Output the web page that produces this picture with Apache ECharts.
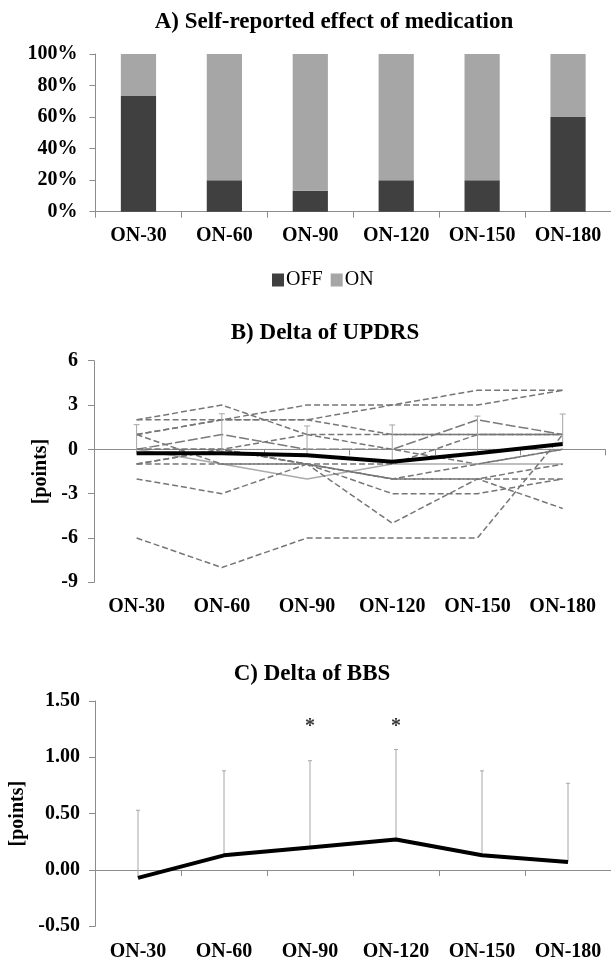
<!DOCTYPE html>
<html>
<head>
<meta charset="utf-8">
<script src="https://cdn.jsdelivr.net/npm/echarts@6/dist/echarts.min.js"></script>
<style>
  html, body { margin: 0; padding: 0; background: #fff; }
  #chart { width: 611px; height: 960px; }
</style>
</head>
<body>
<div id="chart"></div>
<script>
// categories shared by the three panels
const cats = ['ON-30', 'ON-60', 'ON-90', 'ON-120', 'ON-150', 'ON-180'];

// A) self-reported effect (% of patients)
const offPct = [73.3, 20, 13.3, 20, 20, 60];
const onPct = [26.7, 80, 86.7, 80, 80, 40];

// B) delta UPDRS, one array per patient
const p01 = [2, 3, 1, 1, 1, 1];
const p02 = [2, 2, 2, 3, 4, 4];
const p03 = [1, 2, 3, 3, 3, 4];
const p04 = [1, 2, 2, 1, 1, 1];
const p05 = [0, 1, 0, 0, 2, 1];
const p06 = [0, 0, 1, 0, -1, 0];
const p07 = [0, 0, 0, 0, 0, 0];
const p08 = [0, -1, -2, -1, -1, -1];
const p09 = [1, -1, -1, -2, -2, -1];
const p10 = [-1, 0, -1, -1, 1, 1];
const p11 = [-1, -1, -1, -3, -3, -2];
const p12 = [-1, 0, -1, -5, -2, -4];
const p13 = [-2, -3, -1, -2, -1, 0];
const p14 = [-6, -8, -6, -6, -6, 1];
const p15 = [0, 0, -1, -2, -2, -2];
const updrsPatients = [p01, p02, p03, p04, p05, p06, p07, p08, p09, p10, p11, p12, p13, p14, p15];
const updrsMean = [-0.27, -0.27, -0.4, -0.84, -0.27, 0.36];
const updrsSd = [1.94, 2.68, 1.98, 2.49, 2.52, 2.03];

// C) delta BBS
const bbsMean = [-0.07, 0.13, 0.2, 0.27, 0.13, 0.07];
const bbsSd = [0.6, 0.75, 0.77, 0.8, 0.75, 0.7];
const sigCats = ['ON-90', 'ON-120'];
const sigLevel = 1.27;

const serif = '"Liberation Serif", "Times New Roman", serif';
const axisGray = '#8c8c8c';

const chart = echarts.init(document.getElementById('chart'));

function catAxis(gridIndex, margin) {
    return {
        type: 'category', gridIndex: gridIndex, data: cats,
        axisLine: {lineStyle: {color: axisGray, width: 1}},
        axisTick: {show: true, length: 6, lineStyle: {color: axisGray}},
        axisLabel: {color: '#000', fontFamily: serif, fontWeight: 'bold', fontSize: 20, margin: margin, interval: 0}
    };
}

function valAxis(gridIndex, opts) {
    return Object.assign({
        type: 'value', gridIndex: gridIndex,
        axisLine: {show: true, lineStyle: {color: axisGray, width: 1}},
        axisTick: {show: true, length: 6, lineStyle: {color: axisGray}},
        splitLine: {show: false},
        nameTextStyle: {color: '#000', fontFamily: serif, fontWeight: 'bold', fontSize: 20}
    }, opts);
}

// error bar: vertical line from the mean up to mean+sd with a small cap
function errorBar(color, cap) {
    return function (params, api) {
        const x = api.value(0);
        const lo = api.coord([x, api.value(1)]);
        const hi = api.coord([x, api.value(1) + api.value(2)]);
        return {
            type: 'group',
            children: [
                {type: 'line', shape: {x1: lo[0], y1: lo[1], x2: hi[0], y2: hi[1]}, style: {stroke: color, lineWidth: 1}},
                {type: 'line', shape: {x1: hi[0] - cap, y1: hi[1], x2: hi[0] + cap, y2: hi[1]}, style: {stroke: color, lineWidth: 1}}
            ]
        };
    };
}

const series = [];
series.push({
    name: 'OFF', type: 'bar', stack: 'a', xAxisIndex: 0, yAxisIndex: 0,
    data: offPct, barWidth: '41%', itemStyle: {color: '#404040'}, silent: true
});
series.push({
    name: 'ON', type: 'bar', stack: 'a', xAxisIndex: 0, yAxisIndex: 0,
    data: onPct, barWidth: '41%', itemStyle: {color: '#a6a6a6'}, silent: true
});

updrsPatients.forEach((p, i) => {
    let ls = {color: '#767676', width: 1.5, type: [6, 3]};
    if (i === 6) ls = {color: '#8f8f8f', width: 1, type: [2, 2]};
    if (i === 7) ls = {color: '#aaaaaa', width: 1.5, type: 'solid'};
    if (i === 4) ls = {color: '#7a7a7a', width: 1.5, type: [10, 3]};
    series.push({
        type: 'line', xAxisIndex: 1, yAxisIndex: 1, data: p,
        symbol: 'none', lineStyle: ls, z: 2, silent: true
    });
});
series.push({
    type: 'custom', xAxisIndex: 1, yAxisIndex: 1, z: 3, silent: true,
    renderItem: errorBar('#a6a6a6', 3),
    data: updrsMean.map((m, i) => [i, m, updrsSd[i]])
});
series.push({
    type: 'line', xAxisIndex: 1, yAxisIndex: 1, data: updrsMean,
    symbol: 'none', lineStyle: {color: '#000', width: 4}, z: 4, silent: true
});

series.push({
    type: 'custom', xAxisIndex: 2, yAxisIndex: 2, z: 3, silent: true,
    renderItem: errorBar('#a6a6a6', 2),
    data: bbsMean.map((m, i) => [i, m, bbsSd[i]])
});
series.push({
    type: 'line', xAxisIndex: 2, yAxisIndex: 2, data: bbsMean,
    symbol: 'none', lineStyle: {color: '#000', width: 4}, z: 4, silent: true
});
series.push({
    type: 'scatter', xAxisIndex: 2, yAxisIndex: 2, silent: true,
    symbolSize: 0,
    data: sigCats.map(c => [c, sigLevel]),
    label: {show: true, position: 'inside', formatter: '*', color: '#000', fontFamily: serif, fontWeight: 'bold', fontSize: 20}
});

const titleFont = 'bold 23px ' + serif;

chart.setOption({
    animation: false,
    backgroundColor: '#fff',
    grid: [
        {left: 95.5, top: 54, width: 515.5, height: 157.7, outerBoundsMode: 'none'},
        {left: 94, top: 360.7, width: 511.3, height: 221.6, outerBoundsMode: 'none'},
        {left: 95, top: 701, width: 516, height: 225.3, outerBoundsMode: 'none'}
    ],
    legend: {
        data: ['OFF', 'ON'], left: 267, top: 265, icon: 'rect',
        itemWidth: 12, itemHeight: 13, itemGap: 8,
        textStyle: {color: '#000', fontFamily: serif, fontSize: 20, padding: [0, 0, 0, -3]},
        selectedMode: false
    },
    graphic: [
        {type: 'text', x: 334, y: 22, style: {text: 'A) Self-reported effect of medication', font: titleFont, fill: '#000', align: 'center', verticalAlign: 'middle'}},
        {type: 'text', x: 325, y: 333, style: {text: 'B) Delta of UPDRS', font: titleFont, fill: '#000', align: 'center', verticalAlign: 'middle'}},
        {type: 'text', x: 312, y: 674, style: {text: 'C) Delta of BBS', font: titleFont, fill: '#000', align: 'center', verticalAlign: 'middle'}}
    ],
    xAxis: [catAxis(0, 14), catAxis(1, 15), catAxis(2, 16)],
    yAxis: [
        valAxis(0, {min: 0, max: 100, interval: 20,
            axisLabel: {color: '#000', fontFamily: serif, fontWeight: 'bold', fontSize: 20, margin: 18, formatter: '{value}%'}}),
        valAxis(1, {min: -9, max: 6, interval: 3, name: '[points]', nameLocation: 'middle', nameGap: 37, nameRotate: 90,
            axisLabel: {color: '#000', fontFamily: serif, fontWeight: 'bold', fontSize: 20, margin: 16}}),
        valAxis(2, {min: -0.5, max: 1.5, interval: 0.5, name: '[points]', nameLocation: 'middle', nameGap: 63, nameRotate: 90,
            axisLabel: {color: '#000', fontFamily: serif, fontWeight: 'bold', fontSize: 20, margin: 15,
                formatter: v => v.toFixed(2)}})
    ],
    series: series
});
</script>
</body>
</html>
